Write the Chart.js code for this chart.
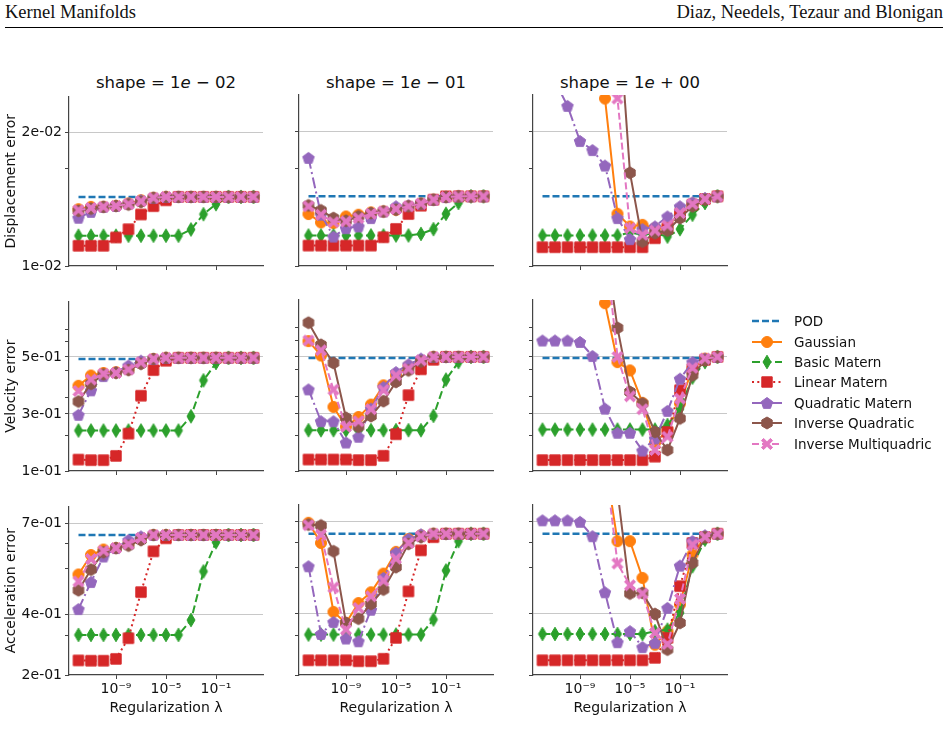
<!DOCTYPE html>
<html>
<head>
<meta charset="utf-8">
<script src="https://cdn.jsdelivr.net/npm/chart.js@4"></script>
<style>
  body { margin:0; width:948px; height:738px; background:#fff; position:relative; overflow:hidden; font-family:"DejaVu Sans", sans-serif; }
  .hdr { position:absolute; top:2px; font-family:"Liberation Serif", serif; font-size:18.5px; color:#111; transform-origin:left top; }
  .rule { position:absolute; left:5px; width:938px; top:27px; height:1px; background:#000; }
  canvas.panel { position:absolute; }
  .coltitle { position:absolute; top:73px; width:200px; text-align:center; font-size:16.5px; color:#111; }
  .legend { position:absolute; left:750px; top:311px; font-size:13.5px; color:#111; }
  .legend div { height:20.4px; display:flex; align-items:center; }
  .legend canvas { margin-right:10px; }
</style>
</head>
<body>
<div class="hdr" style="left:5px">Kernel Manifolds</div>
<div class="hdr" style="right:5px">Diaz, Needels, Tezaur and Blonigan</div>
<div class="rule"></div>
<div class="coltitle" style="left:66px">shape = 1<i>e</i> − 02</div>
<div class="coltitle" style="left:296px">shape = 1<i>e</i> − 01</div>
<div class="coltitle" style="left:530px">shape = 1<i>e</i> + 00</div>
<div class="legend" id="legend"></div>
<script>
// regularization values (x)
const lambdas = [1e-12, 1e-11, 1e-10, 1e-9, 1e-8, 1e-7, 1e-6, 1e-5, 1e-4, 1e-3, 1e-2, 1e-1, 1e0, 1e1, 1e2];
const xTicks = [1e-9, 1e-5, 1e-1];
const xTickLabels = ['10⁻⁹', '10⁻⁵', '10⁻¹'];

const shapes = ['1e-02', '1e-01', '1e+00'];
const rowTitles = ['Displacement error', 'Velocity error', 'Acceleration error'];
const yTicks = [[0.01, 0.02], [0.1, 0.3, 0.5], [0.2, 0.4, 0.7]];
const yTickLabels = [['1e-02', '2e-02'], ['1e-01', '3e-01', '5e-01'], ['2e-01', '4e-01', '7e-01']];
const yMinorTicks = [[0.01726], [0.598, 0.553, 0.454, 0.358, 0.223], [0.633, 0.552, 0.330]];
const yMin = [0.01, 0.1, 0.2];
const yMax = [0.02267, 0.695, 0.755];

// POD level per row
const podLevel = [0.01516, 0.493, 0.661];

// displacement error, one array per shape column
const gaussianDisp = [
  [0.01424,0.01442,0.01442,0.01449,0.01467,0.01491,0.01509,0.01516,0.01516,0.01516,0.01516,0.01516,0.01516,0.01516,0.01516],
  [0.01385,0.01323,0.01318,0.01367,0.01380,0.01397,0.01404,0.01417,0.01442,0.01462,0.01491,0.01511,0.01516,0.01516,0.01516],
  [0.03,0.03,0.03,0.03,0.03,0.02241,0.01387,0.01293,0.01305,0.01280,0.01293,0.01392,0.01462,0.01496,0.01516]
];
const basicDisp = [
  [0.01226,0.01226,0.01226,0.01226,0.01226,0.01226,0.01226,0.01226,0.01226,0.01273,0.01387,0.01462,0.01516,0.01516,0.01516],
  [0.01226,0.01226,0.01226,0.01226,0.01226,0.01226,0.01226,0.01226,0.01226,0.01238,0.01273,0.01387,0.01467,0.01516,0.01516],
  [0.01226,0.01226,0.01226,0.01226,0.01226,0.01226,0.01226,0.01248,0.01231,0.01243,0.01218,0.01273,0.01380,0.01467,0.01516]
];
const linearDisp = [
  [0.01151,0.01151,0.01151,0.01213,0.01275,0.01385,0.01447,0.01491,0.01516,0.01516,0.01516,0.01516,0.01516,0.01516,0.01516],
  [0.01151,0.01151,0.01151,0.01151,0.01151,0.01151,0.01213,0.01275,0.01385,0.01447,0.01491,0.01516,0.01516,0.01516,0.01516],
  [0.01139,0.01139,0.01139,0.01139,0.01139,0.01139,0.01139,0.01139,0.01139,0.01206,0.01280,0.01387,0.01454,0.01496,0.01516]
];
const quadDisp = [
  [0.01360,0.01404,0.01442,0.01449,0.01467,0.01491,0.01509,0.01516,0.01516,0.01516,0.01516,0.01516,0.01516,0.01516,0.01516],
  [0.01801,0.01380,0.01218,0.01280,0.01293,0.01355,0.01404,0.01442,0.01449,0.01462,0.01491,0.01511,0.01516,0.01516,0.01516],
  [0.0255,0.0237,0.02186,0.01926,0.01859,0.01744,0.01355,0.01199,0.01273,0.01293,0.01367,0.01442,0.01471,0.01504,0.01516]
];
const invQuadDisp = [
  [0.01412,0.01429,0.01442,0.01449,0.01459,0.01479,0.01509,0.01516,0.01516,0.01516,0.01516,0.01516,0.01516,0.01516,0.01516],
  [0.01449,0.01412,0.01355,0.01335,0.01367,0.01392,0.01404,0.01417,0.01442,0.01462,0.01491,0.01511,0.01516,0.01516,0.01516],
  [0.03,0.03,0.03,0.03,0.03,0.03,0.03,0.01690,0.01181,0.01243,0.01263,0.01355,0.01442,0.01491,0.01516]
];
const invMultiDisp = [
  [0.01417,0.01434,0.01442,0.01449,0.01462,0.01484,0.01509,0.01516,0.01516,0.01516,0.01516,0.01516,0.01516,0.01516,0.01516],
  [0.01442,0.01380,0.01325,0.01330,0.01355,0.01387,0.01404,0.01422,0.01442,0.01462,0.01491,0.01511,0.01516,0.01516,0.01516],
  [0.03,0.03,0.03,0.03,0.03,0.03,0.02241,0.01280,0.01231,0.01263,0.01300,0.01392,0.01459,0.01496,0.01516]
];

// velocity error
const gaussianVel = [
  [0.399,0.435,0.444,0.447,0.458,0.481,0.493,0.497,0.497,0.497,0.497,0.497,0.497,0.497,0.497],
  [0.552,0.502,0.323,0.254,0.288,0.331,0.398,0.433,0.464,0.485,0.497,0.497,0.497,0.497,0.497],
  [0.9,0.9,0.9,0.9,0.9,0.684,0.479,0.450,0.337,0.198,0.242,0.335,0.456,0.491,0.497]
];
const basicVel = [
  [0.242,0.242,0.242,0.242,0.242,0.242,0.242,0.242,0.242,0.292,0.418,0.479,0.497,0.497,0.497],
  [0.242,0.242,0.242,0.242,0.242,0.242,0.242,0.242,0.242,0.242,0.292,0.418,0.479,0.497,0.497],
  [0.244,0.244,0.244,0.244,0.244,0.244,0.244,0.244,0.244,0.244,0.260,0.317,0.425,0.479,0.497]
];
const linearVel = [
  [0.140,0.138,0.138,0.153,0.231,0.364,0.454,0.487,0.497,0.497,0.497,0.497,0.497,0.497,0.497],
  [0.140,0.140,0.140,0.140,0.138,0.138,0.153,0.228,0.364,0.454,0.487,0.497,0.497,0.497,0.497],
  [0.138,0.138,0.138,0.138,0.138,0.138,0.138,0.138,0.138,0.150,0.236,0.381,0.454,0.487,0.497]
];
const quadVel = [
  [0.297,0.383,0.433,0.447,0.470,0.487,0.493,0.497,0.497,0.497,0.497,0.497,0.497,0.497,0.497],
  [0.384,0.273,0.273,0.199,0.219,0.317,0.392,0.444,0.471,0.491,0.497,0.497,0.497,0.497,0.497],
  [0.554,0.554,0.554,0.549,0.500,0.317,0.233,0.233,0.171,0.213,0.309,0.421,0.479,0.491,0.497]
];
const invQuadVel = [
  [0.344,0.406,0.439,0.444,0.454,0.476,0.493,0.497,0.497,0.497,0.497,0.497,0.497,0.497,0.497],
  [0.616,0.539,0.476,0.285,0.254,0.291,0.343,0.410,0.450,0.481,0.497,0.497,0.497,0.497,0.497],
  [0.9,0.9,0.9,0.9,0.9,0.9,0.598,0.375,0.335,0.236,0.173,0.283,0.433,0.485,0.497]
];
const invMultiVel = [
  [0.381,0.421,0.441,0.444,0.456,0.481,0.493,0.497,0.497,0.497,0.497,0.497,0.497,0.497,0.497],
  [0.554,0.520,0.383,0.254,0.273,0.315,0.381,0.433,0.456,0.485,0.497,0.497,0.497,0.497,0.497],
  [0.9,0.9,0.9,0.9,0.9,0.9,0.497,0.360,0.315,0.173,0.219,0.352,0.459,0.491,0.497]
];

// acceleration error
const gaussianAcc = [
  [0.531,0.595,0.613,0.618,0.633,0.651,0.661,0.661,0.661,0.661,0.661,0.661,0.661,0.661,0.661],
  [0.697,0.631,0.406,0.370,0.435,0.470,0.531,0.602,0.644,0.656,0.661,0.661,0.661,0.661,0.661],
  [0.9,0.9,0.9,0.9,0.9,0.9,0.637,0.637,0.517,0.299,0.343,0.430,0.593,0.650,0.661]
];
const basicAcc = [
  [0.332,0.332,0.332,0.332,0.332,0.332,0.332,0.332,0.332,0.381,0.541,0.637,0.661,0.661,0.661],
  [0.332,0.332,0.332,0.332,0.332,0.332,0.332,0.332,0.332,0.332,0.381,0.541,0.637,0.661,0.661],
  [0.334,0.334,0.334,0.334,0.334,0.334,0.334,0.334,0.334,0.343,0.348,0.403,0.555,0.642,0.661]
];
const linearAcc = [
  [0.248,0.247,0.247,0.253,0.321,0.473,0.607,0.650,0.661,0.661,0.661,0.661,0.661,0.661,0.661],
  [0.248,0.248,0.248,0.248,0.245,0.245,0.253,0.321,0.473,0.607,0.650,0.661,0.661,0.661,0.661],
  [0.248,0.248,0.248,0.248,0.248,0.248,0.248,0.248,0.248,0.256,0.321,0.490,0.631,0.650,0.661]
];
const quadAcc = [
  [0.417,0.506,0.590,0.618,0.644,0.656,0.661,0.661,0.661,0.661,0.661,0.661,0.661,0.661,0.661],
  [0.555,0.334,0.373,0.319,0.310,0.413,0.517,0.599,0.644,0.659,0.661,0.661,0.661,0.661,0.661],
  [0.705,0.705,0.705,0.700,0.653,0.470,0.307,0.343,0.291,0.305,0.419,0.557,0.637,0.656,0.661]
];
const invQuadAcc = [
  [0.479,0.547,0.604,0.618,0.626,0.644,0.661,0.661,0.661,0.661,0.661,0.661,0.661,0.661,0.661],
  [0.691,0.688,0.604,0.370,0.384,0.432,0.479,0.552,0.628,0.650,0.661,0.661,0.661,0.661,0.661],
  [0.9,0.9,0.9,0.9,0.9,0.9,0.80,0.466,0.468,0.399,0.283,0.370,0.566,0.650,0.661]
];
const invMultiAcc = [
  [0.508,0.582,0.609,0.618,0.631,0.651,0.661,0.661,0.661,0.661,0.661,0.661,0.661,0.661,0.661],
  [0.689,0.658,0.486,0.348,0.419,0.457,0.508,0.580,0.631,0.653,0.661,0.661,0.661,0.661,0.661],
  [0.9,0.9,0.9,0.9,0.9,0.9,0.564,0.493,0.466,0.337,0.301,0.448,0.626,0.650,0.661]
];

const seriesNames = ['POD', 'Gaussian', 'Basic Matern', 'Linear Matern', 'Quadratic Matern', 'Inverse Quadratic', 'Inverse Multiquadric'];
const seriesColors = ['#1f77b4', '#ff7f0e', '#2ca02c', '#d62728', '#9467bd', '#8c564b', '#e377c2'];
const seriesDash = [[7, 3], [], [8, 3.5], [2, 3.3], [11, 3.5, 2, 3.5], [], [7, 3]];
const seriesMarker = [null, 'circle', 'thinDiamond', 'square', 'pentagon', 'hexagon', 'x'];
const rowData = [
  [gaussianDisp, basicDisp, linearDisp, quadDisp, invQuadDisp, invMultiDisp],
  [gaussianVel, basicVel, linearVel, quadVel, invQuadVel, invMultiVel],
  [gaussianAcc, basicAcc, linearAcc, quadAcc, invQuadAcc, invMultiAcc]
];

// marker images
function polygon(ctx, cx, cy, r, n, rot) {
  ctx.beginPath();
  for (let k = 0; k < n; k++) {
    const a = rot + k * 2 * Math.PI / n;
    ctx.lineTo(cx + r * Math.cos(a), cy + r * Math.sin(a));
  }
  ctx.closePath();
}
function makeMarker(kind, color) {
  const c = document.createElement('canvas');
  c.width = 16; c.height = 16;
  const g = c.getContext('2d');
  g.fillStyle = color;
  g.strokeStyle = color;
  g.lineWidth = 1;
  const m = 8;
  if (kind === 'circle') { g.beginPath(); g.arc(m, m, 5.5, 0, 2 * Math.PI); }
  else if (kind === 'thinDiamond') { g.beginPath(); g.moveTo(m, m - 6.8); g.lineTo(m + 4, m); g.lineTo(m, m + 6.8); g.lineTo(m - 4, m); g.closePath(); }
  else if (kind === 'square') { g.beginPath(); g.rect(m - 5.2, m - 5.2, 10.4, 10.4); }
  else if (kind === 'pentagon') polygon(g, m, m + 0.5, 6, 5, -Math.PI / 2);
  else if (kind === 'hexagon') polygon(g, m, m, 6, 6, -Math.PI / 2);
  else if (kind === 'x') {
    const a = 5.6, t = 2.2;
    g.beginPath();
    g.moveTo(m - a + t, m - a); g.lineTo(m, m - t); g.lineTo(m + a - t, m - a); g.lineTo(m + a, m - a + t);
    g.lineTo(m + t, m); g.lineTo(m + a, m + a - t); g.lineTo(m + a - t, m + a); g.lineTo(m, m + t);
    g.lineTo(m - a + t, m + a); g.lineTo(m - a, m + a - t); g.lineTo(m - t, m); g.lineTo(m - a, m - a + t);
    g.closePath();
  }
  g.fill(); g.stroke();
  return c;
}
const markers = seriesMarker.map((k, i) => k ? makeMarker(k, seriesColors[i]) : false);

const colLeft = [69, 299, 533];
const rowTop = [95, 300, 505];
const plotW = 194, plotH = [171, 171, 170];
const padL = 70, padT = 10, padR = 12, padB = 44;
const axisFont = { family: 'DejaVu Sans', size: 14 };

function buildDatasets(r, c) {
  const sets = [{
    label: seriesNames[0],
    data: [{ x: lambdas[0], y: podLevel[r] }, { x: lambdas[lambdas.length - 1], y: podLevel[r] }],
    borderColor: seriesColors[0], borderDash: seriesDash[0], borderWidth: 2.5,
    pointRadius: 0, order: 7
  }];
  rowData[r].forEach((series, k) => {
    const i = k + 1;
    sets.push({
      label: seriesNames[i],
      data: lambdas.map((x, j) => ({ x: x, y: series[c][j] })),
      borderColor: seriesColors[i], backgroundColor: seriesColors[i],
      borderDash: seriesDash[i], borderWidth: 2,
      pointStyle: markers[i], pointRadius: 6,
      order: 7 - i
    });
  });
  return sets;
}

for (let r = 0; r < 3; r++) {
  for (let c = 0; c < 3; c++) {
    const cv = document.createElement('canvas');
    cv.className = 'panel';
    cv.width = padL + plotW + padR;
    cv.height = padT + plotH[r] + padB;
    cv.style.left = (colLeft[c] - padL) + 'px';
    cv.style.top = (rowTop[r] - padT) + 'px';
    document.body.appendChild(cv);
    const major = yTicks[r], minor = yMinorTicks[r];
    const isMajor = v => major.some(m => Math.abs(m - v) < 1e-9);
    new Chart(cv.getContext('2d'), {
      type: 'line',
      data: { datasets: buildDatasets(r, c) },
      options: {
        responsive: false,
        animation: false,
        layout: { padding: { top: padT, right: padR, left: 0, bottom: 0 } },
        elements: { line: { tension: 0 } },
        plugins: { legend: { display: false }, tooltip: { enabled: false } },
        scales: {
          x: {
            type: 'logarithmic',
            min: Math.pow(10, -12.76), max: Math.pow(10, 2.76),
            afterBuildTicks: s => { s.ticks = xTicks.map(v => ({ value: v })); },
            afterFit: s => { s.height = padB; },
            border: { color: '#444', width: 1.2 },
            grid: { drawOnChartArea: false, tickLength: 4, tickColor: '#444' },
            ticks: {
              display: r === 2, maxRotation: 0, autoSkip: false, padding: 2,
              font: axisFont, color: '#111',
              callback: v => xTickLabels[xTicks.findIndex(t => Math.abs(Math.log10(t) - Math.log10(v)) < 1e-6)] || ''
            },
            title: { display: r === 2, text: 'Regularization λ', font: axisFont, color: '#111', padding: { top: 0, bottom: 2 } }
          },
          y: {
            type: 'linear',
            min: yMin[r], max: yMax[r],
            afterBuildTicks: s => { s.ticks = major.concat(minor).map(v => ({ value: v })); },
            afterFit: s => { s.width = padL; },
            border: { color: '#444', width: 1.2 },
            grid: {
              tickLength: 4, tickColor: '#444', lineWidth: 1,
              color: ctx => (ctx.tick && isMajor(ctx.tick.value) && ctx.tick.value > yMin[r]) ? '#c8c8c8' : 'rgba(0,0,0,0)'
            },
            ticks: {
              display: c === 0, autoSkip: false, padding: 3,
              font: axisFont, color: '#111',
              callback: v => { const k = major.findIndex(m => Math.abs(m - v) < 1e-9); return k >= 0 ? yTickLabels[r][k] : ''; }
            },
            title: { display: c === 0, text: rowTitles[r], font: axisFont, color: '#111', padding: { bottom: 2 } }
          }
        }
      }
    });
  }
}

// legend
const leg = document.getElementById('legend');
seriesNames.forEach((name, i) => {
  const row = document.createElement('div');
  const sw = document.createElement('canvas');
  sw.width = 34; sw.height = 16;
  const g = sw.getContext('2d');
  g.strokeStyle = seriesColors[i];
  g.lineWidth = i === 0 ? 2.5 : 2;
  g.setLineDash(seriesDash[i]);
  g.beginPath(); g.moveTo(2, 8); g.lineTo(32, 8); g.stroke();
  if (markers[i]) g.drawImage(markers[i], 9, 0);
  row.appendChild(sw);
  row.appendChild(document.createTextNode(name));
  leg.appendChild(row);
});
</script>
</body>
</html>
